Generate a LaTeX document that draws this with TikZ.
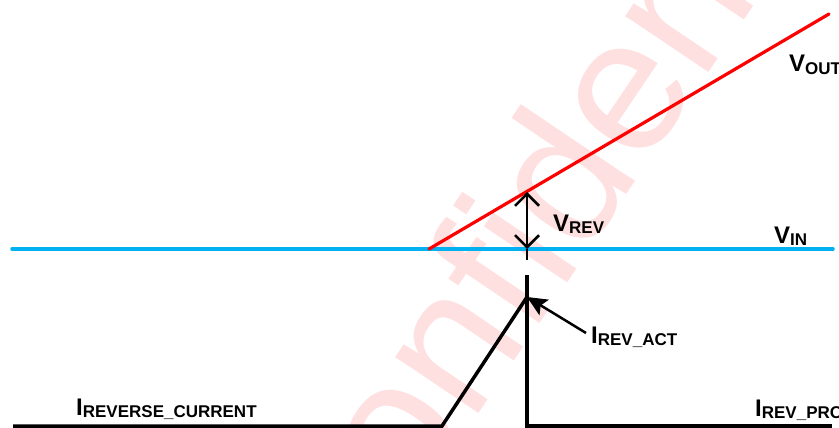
\documentclass[tikz,border=0pt]{standalone}
\usepackage{fontspec}
\setmainfont{Liberation Sans}
\usetikzlibrary{arrows.meta}
\definecolor{vinblue}{RGB}{0,176,240}
\newcommand{\lowidx}[1]{\raisebox{-2.5pt}{\fontsize{17}{17}\selectfont #1}}

\begin{document}
\begin{tikzpicture}[x=1pt,y=-1pt]
  \tikzstyle{lab}=[inner sep=0pt,anchor=base west,font=\fontsize{24}{24}\selectfont\bfseries]
  \tikzstyle{trace}=[line width=3.5pt]
  \useasboundingbox (0,0) rectangle (839,428) ;
  \clip (0,0) rectangle (839,428) ;
  \node [rotate=56,text=red!12,inner sep=0pt,font=\fontsize{190}{190}\selectfont] (mark) at (560,172) {Confidential} ;
  \coordinate (vinL) at (12,249) ;
  \coordinate (vinR) at (833,249) ;
  \coordinate (vout0) at (429,249) ;
  \coordinate (voutR) at (829,14) ;
  \coordinate (revtop) at (527,192) ;
  \coordinate (revbot) at (527,249) ;
  \coordinate (revend) at (527,260) ;
  \coordinate (curL) at (13,426) ;
  \coordinate (rise) at (442,426) ;
  \coordinate (peak) at (527,297) ;
  \coordinate (stem) at (527,275) ;
  \coordinate (foot) at (527,426) ;
  \coordinate (curR) at (832,426) ;
  \node [lab] (vout) at (789,72) {V\lowidx{OUT}} ;
  \node [lab] (vin) at (774,243) {V\lowidx{IN}} ;
  \node [lab] (vrev) at (553,231) {V\lowidx{REV}} ;
  \node [lab] (iact) at (591,343) {I\lowidx{REV\_ACT}} ;
  \node [lab] (ipro) at (755,416) {I\lowidx{REV\_PRO}} ;
  \node [lab] (irev) at (76,415) {I\lowidx{REVERSE\_CURRENT}} ;
  \draw [trace,vinblue,line cap=round] (vinL) -- (vinR) ;
  \draw [line width=3.2pt,red,line cap=round] (vout0) -- (voutR) ;
  \draw [line width=2.5pt,{Straight Barb[length=12pt,width=24pt]}-{Straight Barb[length=12pt,width=24pt]}] (revtop) -- (revbot) ;
  \draw [line width=2.5pt] (revbot) -- (revend) ;
  \draw [trace] (curL) -- (rise) -- (peak) ;
  \draw [trace] (stem) -- (foot) -- (curR) ;
  \draw [line width=2.5pt,-{Stealth[length=20pt,width=18pt,inset=4pt]}] (586,333) -- (peak) ;
\end{tikzpicture}
\end{document}
